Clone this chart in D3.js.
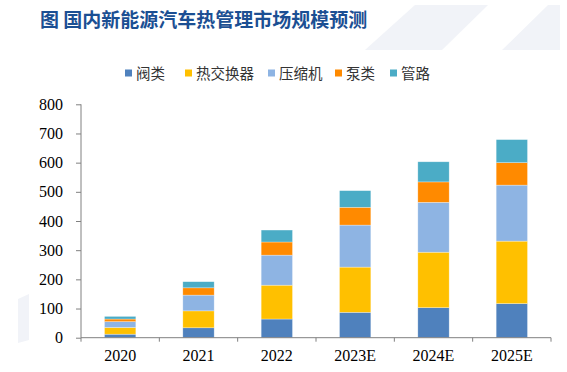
<!DOCTYPE html>
<html><head><meta charset="utf-8">
<script src="https://cdn.jsdelivr.net/npm/d3@7"></script>
<style>html,body{margin:0;padding:0;background:#fff;}svg{display:block;}</style>
</head><body>
<svg id="c" width="567" height="372"></svg>
<script>
const categories = ["2020","2021","2022","2023E","2024E","2025E"];
const seriesNames = ["阀类","热交换器","压缩机","泵类","管路"];
const valve      = [12, 34, 64, 87, 103, 117];
const exchanger  = [23, 58, 116, 155, 190, 214];
const compressor = [20, 54, 103, 144, 171, 192];
const pump       = [9, 25, 45, 61, 70, 77];
const pipe       = [9, 21, 41, 57, 69, 79];
const yTicks = [0,100,200,300,400,500,600,700,800];
const colors = ["#4F81BD","#FFC000","#8EB4E3","#FF8A00","#4BACC6"];
const title = "图 国内新能源汽车热管理市场规模预测";

const svg = d3.select("#c");
// background decorations
const deco = [
  [[415,5],[488,5],[442,50],[365,50]],
  [[548,5],[560,5],[560,50],[502,50]],
  [[18,299],[29,294],[29,340],[18,343]]
];
svg.selectAll("polygon.deco").data(deco).join("polygon")
  .attr("points", d => d.map(p => p.join(",")).join(" "))
  .attr("fill", "#f1f3f8");

svg.append("text").attr("x", 40).attr("y", 27)
  .attr("font-family", "'Noto Sans CJK SC'").attr("font-weight", "bold")
  .attr("font-size", 19).attr("fill", "#1B4F93").text(title);

const table = categories.map((c, i) => ({cat: c, "阀类": valve[i], "热交换器": exchanger[i], "压缩机": compressor[i], "泵类": pump[i], "管路": pipe[i]}));
const stack = d3.stack().keys(seriesNames)(table);

const x = d3.scaleBand().domain(categories).range([81, 551]).paddingInner(0.6).paddingOuter(0.3);
const y = d3.scaleLinear().domain([0, 800]).range([337.7, 104.3]);
const color = d3.scaleOrdinal().domain(seriesNames).range(colors);

svg.append("g").selectAll("g").data(stack).join("g")
  .attr("fill", d => color(d.key))
  .selectAll("rect").data(d => d).join("rect")
  .attr("x", d => x(d.data.cat))
  .attr("width", x.bandwidth())
  .attr("y", d => y(d[1]))
  .attr("height", d => y(d[0]) - y(d[1]))
  .attr("stroke", "#ffffff").attr("stroke-opacity", 0.5).attr("stroke-width", 0.6);

// y axis
const yAxis = svg.append("g").attr("transform", "translate(81,0)")
  .call(d3.axisLeft(y).tickValues(yTicks).tickSize(5).tickPadding(13).tickFormat(d3.format("d")));
yAxis.selectAll("text").attr("font-family", "'Liberation Serif', serif").attr("font-size", 16).attr("fill", "#000");
yAxis.selectAll("line,path").attr("stroke", "#808080");
yAxis.select("path").attr("d", `M-0,${y(800)}V${y(0)}`);

// x axis
const xAxis = svg.append("g").attr("transform", `translate(0,${y(0)})`)
  .call(d3.axisBottom(x).tickSize(0).tickPadding(12));
xAxis.select("path").attr("stroke", "#808080").attr("d", `M81,0H551`);
xAxis.selectAll("text").attr("font-family", "'Liberation Serif', serif").attr("font-size", 16).attr("fill", "#000");
const bounds = categories.map(c => x(c) - x.step() * x.paddingInner() / 2).concat([551]);
bounds[0] = 81;
xAxis.selectAll("line.bt").data(bounds).join("line").attr("class", "bt")
  .attr("x1", d => d).attr("x2", d => d).attr("y1", 0).attr("y2", 4).attr("stroke", "#808080");

// legend
const legendX = [125, 185, 268, 335, 390];
const lg = svg.append("g").selectAll("g").data(seriesNames).join("g")
  .attr("transform", (d, i) => `translate(${legendX[i]},73)`);
lg.append("rect").attr("x", 0).attr("y", -3.5).attr("width", 7).attr("height", 7).attr("fill", d => color(d));
lg.append("text").attr("x", 11).attr("y", 5.5)
  .attr("font-family", "'Noto Sans CJK SC'").attr("font-size", 14.5).attr("fill", "#333").text(d => d);
</script>
</body></html>
